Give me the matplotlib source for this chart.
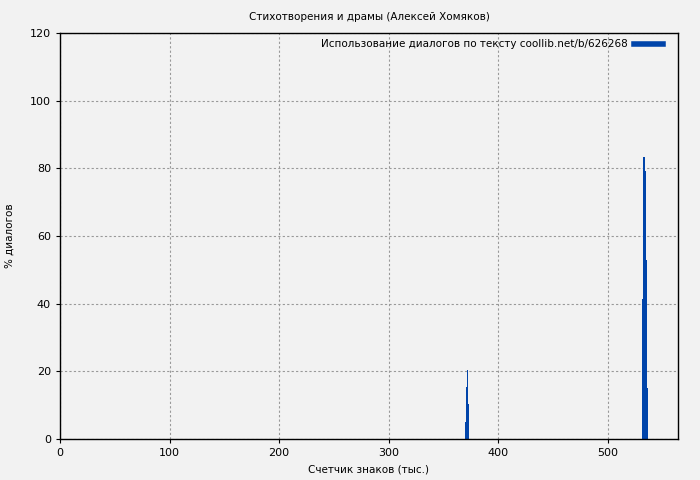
import matplotlib
matplotlib.use("Agg")
import matplotlib.pyplot as plt
from matplotlib.lines import Line2D

# Data: position in thousands of characters, percent of dialogue
positions = [370, 371, 372, 373, 532, 533, 534, 535, 536]
dialog_pct = [5.0, 15.5, 20.5, 10.2, 41.4, 83.4, 79.2, 52.9, 15.2]

x_ticks = [0, 100, 200, 300, 400, 500]
y_ticks = [0, 20, 40, 60, 80, 100, 120]

bg = "#f2f2f2"
blue = "#0044aa"

fig = plt.figure(figsize=(7, 4.8), dpi=100, facecolor=bg)
ax = fig.add_axes([60 / 700, 41 / 480, 618 / 700, 406 / 480], facecolor=bg)

ax.bar(positions, dialog_pct, width=1.0, color=blue, linewidth=0)

ax.set_xlim(0, 564)
ax.set_ylim(0, 120)
ax.set_xticks(x_ticks)
ax.set_yticks(y_ticks)
ax.grid(True, color="#999999", linestyle=(0, (2, 2)), linewidth=0.8)
ax.set_axisbelow(True)
ax.tick_params(labelsize=8, length=3, direction="out")
for s in ax.spines.values():
    s.set_linewidth(1.0)

ax.set_title("Стихотворения и драмы (Алексей Хомяков)", fontsize=7.5, pad=9)
ax.set_xlabel("Счетчик знаков (тыс.)", fontsize=7.5, labelpad=5)
ax.set_ylabel("% диалогов", fontsize=7.5, labelpad=11)

handle = Line2D([0], [0], color=blue, linewidth=4)
ax.legend([handle], ["Использование диалогов по тексту coollib.net/b/626268"],
          loc="upper right", bbox_to_anchor=(1 - 8 / 618, 1 + 1 / 406),
          fontsize=7.5, frameon=False, markerfirst=False,
          handlelength=2.8, handletextpad=0.6, borderaxespad=0.3)

fig.savefig("out.png", dpi=100, facecolor=bg)
